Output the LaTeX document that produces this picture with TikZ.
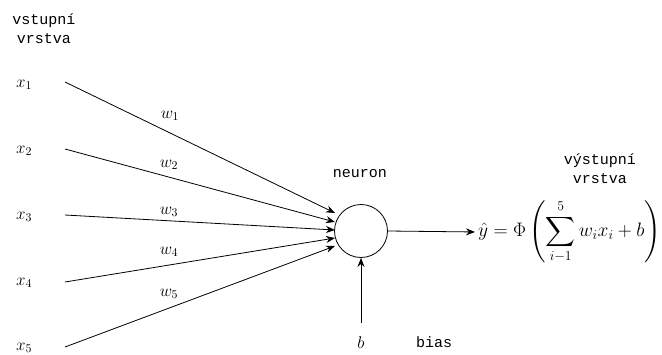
\RequirePackage{fix-cm}
\documentclass[tikz,border=0pt]{standalone}
\usepackage{amsmath}
\usepackage{fontspec}
\setmonofont{Liberation Mono}
\usetikzlibrary{arrows.meta}
\begin{document}
\begin{tikzpicture}[x=1pt,y=-1pt,
  lbl/.style={font=\fontsize{15}{19}\selectfont\ttfamily, align=center, inner sep=0pt},
  var/.style={font=\fontsize{17}{20}\selectfont, inner sep=0pt},
  formula/.style={font=\fontsize{19.5}{23}\selectfont, inner sep=0pt},
  conn/.style={line width=0.8pt, -{Stealth[length=9pt,width=7pt]}},
  ]
\fill[white] (0,0) rectangle (662,354);
\useasboundingbox (0,0) rectangle (662,354);

% layer captions
\node[lbl] (inlayer) at (44,29) {vstupní\\vrstva};
\node[lbl] (outlayer) at (600,169) {výstupní\\vrstva};
\node[lbl] (nlabel) at (360,174) {neuron};
\node[lbl] (biaslabel) at (434,342) {bias};

% inputs
\node[var] (x1) at (24,85) {$x_1$};
\node[var] (x2) at (24,151) {$x_2$};
\node[var] (x3) at (24,217) {$x_3$};
\node[var] (x4) at (24,283) {$x_4$};
\node[var] (x5) at (24,348) {$x_5$};

% line starts right of the inputs
\coordinate (s1) at (65,82);
\coordinate (s2) at (65,149);
\coordinate (s3) at (65,215);
\coordinate (s4) at (65,282);
\coordinate (s5) at (65,347);

% neuron
\node[draw, circle, minimum size=53pt, line width=0.8pt, inner sep=0pt] (n) at (361,231) {};

% arrow ends at the neuron's left side
\coordinate (t1) at (335,213);
\coordinate (t2) at (335,222);
\coordinate (t3) at (335,230);
\coordinate (t4) at (335,238);
\coordinate (t5) at (335,246);

\draw[conn] (s1) -- (t1);
\draw[conn] (s2) -- (t2);
\draw[conn] (s3) -- (t3);
\draw[conn] (s4) -- (t4);
\draw[conn] (s5) -- (t5);

% weights
\node[var] (w1) at (170,116) {$w_1$};
\node[var] (w2) at (169,165) {$w_2$};
\node[var] (w3) at (169,212) {$w_3$};
\node[var] (w4) at (169,252) {$w_4$};
\node[var] (w5) at (169,294) {$w_5$};

% output
\node[formula, anchor=west] (y) at (478,232)
  {$\displaystyle \hat{y} = \Phi\left(\sum_{i-1}^{5} w_i x_i + b\right)$};
\draw[conn, shorten >=3pt] (n.east) -- (y.west);

% bias
\node[var] (b) at (361,343) {$b$};
\coordinate (bs) at (361,323);
\draw[conn] (bs) -- (n.south);
\end{tikzpicture}
\end{document}
